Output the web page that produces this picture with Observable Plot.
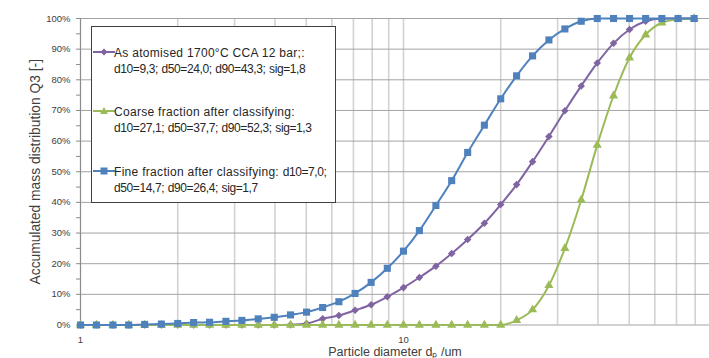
<!DOCTYPE html>
<html>
<head>
<meta charset="utf-8">
<script src="https://cdn.jsdelivr.net/npm/d3@7"></script>
<script src="https://cdn.jsdelivr.net/npm/@observablehq/plot@0.6"></script>
<style>
  body { margin: 0; background: #fff; }
  #wrap { position: relative; width: 709px; height: 358px; font-family: "Liberation Sans", Arial, sans-serif; }
  #legend { position: absolute; left: 91px; top: 26px; width: 245px; height: 177px; border: 1px solid #404040; background: #fff; box-sizing: border-box; }
  .entry { position: absolute; left: 0; }
  .entry svg { position: absolute; left: 1px; top: 2px; }
  .entry .txt { position: absolute; left: 22px; top: 0; white-space: nowrap; font-size: 12px; line-height: 16px; color: #262626; }
  .entry .w { letter-spacing: 0.3px; }
  .entry .n { letter-spacing: -0.4px; }
</style>
</head>
<body>
<div id="wrap"><div id="chart"></div><div id="legend"></div></div>
<script>
// Particle diameter classes (um)
const diameters = [1.00, 1.12, 1.26, 1.41, 1.58, 1.78, 2.00, 2.24, 2.51, 2.82, 3.16, 3.55, 3.98, 4.47, 5.01, 5.62, 6.31, 7.08, 7.94, 8.91,
  10.0, 11.2, 12.6, 14.1, 15.8, 17.8, 20.0, 22.4, 25.1, 28.2, 31.6, 35.5, 39.8, 44.7, 50.1, 56.2, 63.1, 70.8, 79.4];
// Accumulated mass distribution Q3 (%)
const asAtomised = [0, 0, 0, 0, 0, 0, 0, 0, 0, 0, 0, 0, 0, 0.1, 0.5, 2.0, 3.1, 4.8, 6.6, 9.2,
  12.2, 15.5, 19.2, 23.3, 27.9, 33.2, 39.3, 45.8, 53.3, 61.5, 69.9, 78.0, 85.5, 91.9, 96.4, 99.1, 100, 100, 100];
const coarse = [0, 0, 0, 0, 0, 0, 0, 0, 0, 0, 0, 0, 0, 0, 0, 0, 0, 0, 0, 0,
  0, 0, 0, 0, 0, 0, 0, 1.5, 5.0, 12.9, 25.0, 40.8, 58.7, 74.8, 87.2, 94.7, 98.6, 99.7, 100];
const fine = [0, 0, 0, 0, 0.2, 0.3, 0.5, 0.8, 0.9, 1.2, 1.5, 2.0, 2.5, 3.3, 4.2, 5.7, 7.6, 10.3, 13.9, 18.5,
  24.1, 30.8, 39.0, 47.1, 56.3, 65.2, 73.8, 81.3, 87.8, 93.0, 96.6, 99.1, 100, 100, 100, 100, 100, 100, 100];

const seriesNames = [
  ["As atomised 1700°C CCA 12 bar;:", "d10=9,3; d50=24,0; d90=43,3; sig=1,8"],
  ["Coarse fraction after classifying:", "d10=27,1; d50=37,7; d90=52,3; sig=1,3"],
  ["Fine fraction after classifying: d10=7,0;", "d50=14,7; d90=26,4; sig=1,7"]
];
const yTicks = [0, 5, 10, 15, 20, 25, 30, 35, 40, 45, 50, 55, 60, 65, 70, 75, 80, 85, 90, 95, 100];
const yGrid = [0, 10, 20, 30, 40, 50, 60, 70, 80, 90, 100];
const xGrid = [1, 2, 3, 4, 5, 6, 7, 8, 9, 10, 20, 30, 40, 50, 60, 70, 80];
const xLabels = [1, 10];
const xTitle = "Particle diameter dₚ /um";
const yTitle = "Accumulated mass distribution Q3 [-]";

const styles = [
  {values: asAtomised, color: "#8064A2", symbol: "diamond2", r: 3.4},
  {values: coarse, color: "#9BBB59", symbol: "triangle", r: 3.4},
  {values: fine, color: "#4F81BD", symbol: "square", r: 4}
];

const seriesMarks = styles.flatMap(s => {
  const data = diameters.map((d, i) => ({x: d, y: s.values[i]}));
  return [
    Plot.line(data, {x: "x", y: "y", stroke: s.color, strokeWidth: 2, curve: "monotone-x"}),
    Plot.dot(data, {x: "x", y: "y", symbol: () => s.symbol, fill: s.color, stroke: "none", r: s.r})
  ];
});

const chart = Plot.plot({
  width: 709,
  height: 358,
  marginLeft: 80,
  marginRight: 0,
  marginTop: 18,
  marginBottom: 33.5,
  style: {fontFamily: "Liberation Sans, Arial, sans-serif", background: "#fff"},
  x: {type: "log", domain: [1, 88.6]},
  y: {domain: [0, 100]},
  symbol: {type: "identity"},
  marks: [
    Plot.ruleX(xGrid, {y1: 0, y2: 100, stroke: "#d2d2d2", strokeWidth: 1.6}),
    Plot.ruleY(yGrid, {stroke: "#a3a3a3", strokeWidth: 1}),
    Plot.ruleX([1], {y1: 0, y2: 100, stroke: "#8c8c8c", strokeWidth: 1}),
    Plot.axisY({ticks: yTicks, tickSize: 4, tickPadding: 6, stroke: "#8c8c8c", fill: "#404040", fontSize: 9.5,
      tickFormat: d => d % 10 === 0 ? d + "%" : "", label: null}),
    Plot.axisX({ticks: xLabels, tickSize: 0, tickPadding: 11, fill: "#404040", fontSize: 9.5, tickFormat: d => String(d), label: null}),
    Plot.text([yTitle], {frameAnchor: "left", dx: -45, rotate: -90, textAnchor: "middle", lineAnchor: "middle", fontSize: 13.8, fill: "#404040"}),
    Plot.text([xTitle], {frameAnchor: "bottom", dy: 27, textAnchor: "middle", lineAnchor: "middle", fontSize: 12.5, fill: "#404040"}),
    ...seriesMarks
  ]
});
document.getElementById("chart").appendChild(chart);

// Legend inside the plot area
const legend = document.getElementById("legend");
const tops = [18, 77, 137];
const symPaths = {
  diamond2: "M11,1.5 L14.5,5 L11,8.5 L7.5,5 Z",
  triangle: "M11,1 L15,8 L7,8 Z",
  square: "M7.5,1.5 L14.5,1.5 L14.5,8.5 L7.5,8.5 Z"
};
const fmt = line => line.split(/((?:d\d0|sig)=[\d,]+;?)/).filter(t => t.length)
  .map(t => /^(d\d0|sig)=/.test(t) ? `<span class="n">${t}</span>` : `<span class="w">${t}</span>`).join("");
styles.forEach((s, i) => {
  const e = document.createElement("div");
  e.className = "entry";
  e.style.top = tops[i] + "px";
  e.innerHTML = `<svg width="22" height="10" viewBox="0 0 22 10"><line x1="0" x2="22" y1="5" y2="5" stroke="${s.color}" stroke-width="2"/><path d="${symPaths[s.symbol]}" fill="${s.color}"/></svg><div class="txt">${fmt(seriesNames[i][0])}<br>${fmt(seriesNames[i][1])}</div>`;
  legend.appendChild(e);
});
</script>
</body>
</html>
